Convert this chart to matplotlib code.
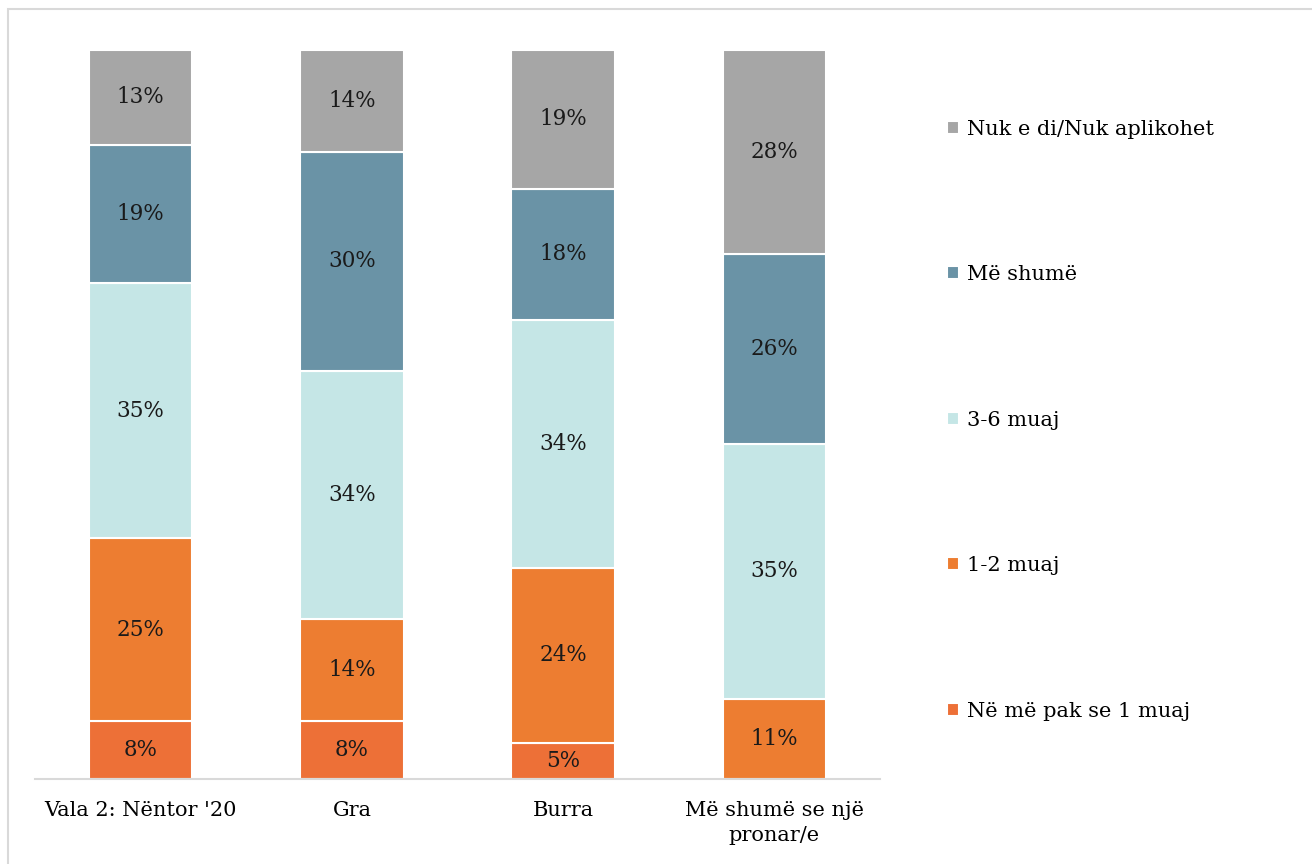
import numpy as np
import matplotlib.pyplot as plt
from matplotlib.patches import Rectangle

categories = ["Vala 2: Nëntor '20", "Gra", "Burra", "Më shumë se një\npronar/e"]
series_names = ["Në më pak se 1 muaj", "1-2 muaj", "3-6 muaj", "Më shumë", "Nuk e di/Nuk aplikohet"]
less_1 = [8, 8, 5, 0]
one_two = [25, 14, 24, 11]
three_six = [35, 34, 34, 35]
more = [19, 30, 18, 26]
dont_know = [13, 14, 19, 28]
colors = ["#ED7037", "#ED7D31", "#C5E6E6", "#6A93A6", "#A6A6A6"]

plt.rcParams['font.family'] = ['DejaVu Serif']

fig = plt.figure(figsize=(13.12, 8.64), dpi=100)
W, H = 1312, 864
# chart border (light grey, left and top)
fig.add_artist(Rectangle((8 / W, -0.1), 1.2, 1 - 9 / H + 0.1, transform=fig.transFigure,
                         fill=False, edgecolor="#D9D9D9", linewidth=1.5))

ax = fig.add_axes([35 / W, 1 - 779 / H, 845 / W, 729 / H])
x = np.arange(len(categories))
data = [less_1, one_two, three_six, more, dont_know]
bottom = np.zeros(len(categories))
handles = []
for name, vals, c in zip(series_names, data, colors):
    vals = np.array(vals, dtype=float)
    bars = ax.bar(x, vals, 0.49, bottom=bottom, color=c, edgecolor="white", linewidth=1.5, label=name)
    handles.append(bars)
    for xi, v, b in zip(x, vals, bottom):
        if v > 0:
            ax.text(xi, b + v / 2, f"{int(v)}%", ha="center", va="center", fontsize=15.5, color="#1a1a1a")
    bottom += vals

ax.set_xlim(-0.5, 3.5)
ax.set_ylim(0, 100)
ax.set_yticks([])
ax.set_xticks(x)
ax.set_xticklabels(categories, fontsize=15, linespacing=1.4)
ax.tick_params(axis="x", length=0, pad=16)
for s in ["top", "right", "left"]:
    ax.spines[s].set_visible(False)
ax.spines["bottom"].set_color("#D9D9D9")
ax.spines["bottom"].set_linewidth(1.5)

leg = fig.legend(handles[::-1], series_names[::-1], loc="upper left",
                 bbox_to_anchor=(928 / W, 1 - 101 / H), frameon=False, fontsize=15,
                 handlelength=0.6, handleheight=0.6, handletextpad=0.35, labelspacing=6.07)

fig.savefig("out.png", dpi=100)
